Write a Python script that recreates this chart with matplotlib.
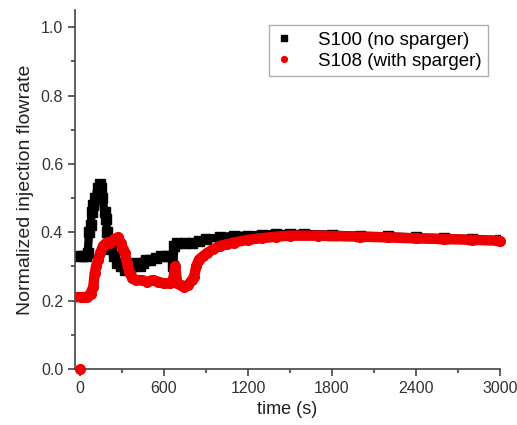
import matplotlib
matplotlib.use('Agg')
import matplotlib.pyplot as plt
import matplotlib.ticker as ticker

plt.rcParams['font.family'] = ['Liberation Sans', 'DejaVu Sans']

# S100 (no sparger)
t_s100 = [0, 20, 40, 55, 65, 75, 85, 95, 110, 125, 140, 150, 160, 175, 185, 195,
          210, 225, 245, 265, 290, 320, 355, 375, 400, 430, 450, 470, 500, 540,
          580, 620, 650, 665, 675, 690, 750, 800, 850, 900, 1000, 1100, 1200,
          1300, 1400, 1500, 1600, 1800, 2000, 2200, 2400, 2600, 2800, 3000]
q_s100 = [0.33, 0.33, 0.33, 0.34, 0.40, 0.42, 0.46, 0.48, 0.50, 0.53, 0.54, 0.53,
          0.50, 0.46, 0.44, 0.40, 0.37, 0.35, 0.33, 0.31, 0.30, 0.29, 0.29, 0.30,
          0.31, 0.30, 0.31, 0.32, 0.32, 0.325, 0.33, 0.33, 0.33, 0.30, 0.36, 0.37,
          0.37, 0.37, 0.375, 0.38, 0.385, 0.39, 0.39, 0.393, 0.395, 0.395, 0.395,
          0.393, 0.39, 0.388, 0.385, 0.383, 0.38, 0.377]

# S108 (with sparger)
t_s108 = [0, 5, 25, 50, 75, 95, 105, 115, 130, 145, 165, 190, 215, 245, 272, 290,
          305, 320, 335, 355, 375, 400, 440, 480, 520, 560, 600, 640, 665, 680,
          695, 720, 740, 770, 800, 815, 830, 850, 880, 910, 950, 1000, 1050, 1100,
          1200, 1300, 1400, 1500, 1700, 2000, 2200, 2400, 2600, 2800, 3000]
q_s108 = [0.0, 0.21, 0.21, 0.21, 0.22, 0.24, 0.28, 0.30, 0.32, 0.34, 0.36, 0.37,
          0.37, 0.38, 0.385, 0.37, 0.35, 0.34, 0.31, 0.28, 0.265, 0.26, 0.26, 0.255,
          0.26, 0.255, 0.25, 0.25, 0.26, 0.30, 0.25, 0.245, 0.24, 0.245, 0.26, 0.27,
          0.30, 0.32, 0.33, 0.34, 0.35, 0.36, 0.365, 0.37, 0.378, 0.383, 0.387,
          0.39, 0.39, 0.387, 0.385, 0.382, 0.38, 0.378, 0.375]

fig = plt.figure(figsize=(5.17, 4.25), dpi=100)
ax = fig.add_axes([0.145, 0.132, 0.822, 0.844])

ax.plot(t_s100[1:], q_s100[1:], color='black', lw=6, solid_capstyle='butt', zorder=2)
ax.plot(t_s100, q_s100, 's', color='black', ms=6.5, zorder=2, label='S100 (no sparger)')
ax.plot(t_s108[1:], q_s108[1:], color='#ee0000', lw=7.5, zorder=3)
ax.plot(t_s108, q_s108, 'o', color='#ee0000', ms=8, mec='none', zorder=3,
        label='S108 (with sparger)', clip_on=False)

ax.set_xlim(-36, 3000)
ax.set_ylim(0, 1.05)
ax.xaxis.set_major_locator(ticker.MultipleLocator(600))
ax.xaxis.set_minor_locator(ticker.MultipleLocator(300))
ax.yaxis.set_major_locator(ticker.MultipleLocator(0.2))
ax.yaxis.set_minor_locator(ticker.MultipleLocator(0.1))
ax.yaxis.set_major_formatter(ticker.FormatStrFormatter('%.1f'))

for s in ['top', 'right']:
    ax.spines[s].set_visible(False)
for s in ['left', 'bottom']:
    ax.spines[s].set_color('#444444')
    ax.spines[s].set_linewidth(1.2)
ax.tick_params(which='major', direction='out', length=5, width=1.2, color='#444444',
               labelsize=11.5, labelcolor='#333333')
ax.tick_params(which='minor', direction='out', length=3, width=1.2, color='#444444')

ax.set_xlabel('time (s)', fontsize=13, color='#222222', labelpad=4)
ax.set_ylabel('Normalized injection flowrate', fontsize=14, color='#222222', labelpad=5)

leg = ax.legend(loc='upper right', bbox_to_anchor=(0.995, 0.985), fontsize=13.5,
                frameon=True, fancybox=False, edgecolor='#999999', handletextpad=1.4,
                borderpad=0.35, labelspacing=0.2, handlelength=0.9, markerscale=0.65)
leg.get_frame().set_linewidth(1.0)

fig.savefig('out.png', dpi=100)
